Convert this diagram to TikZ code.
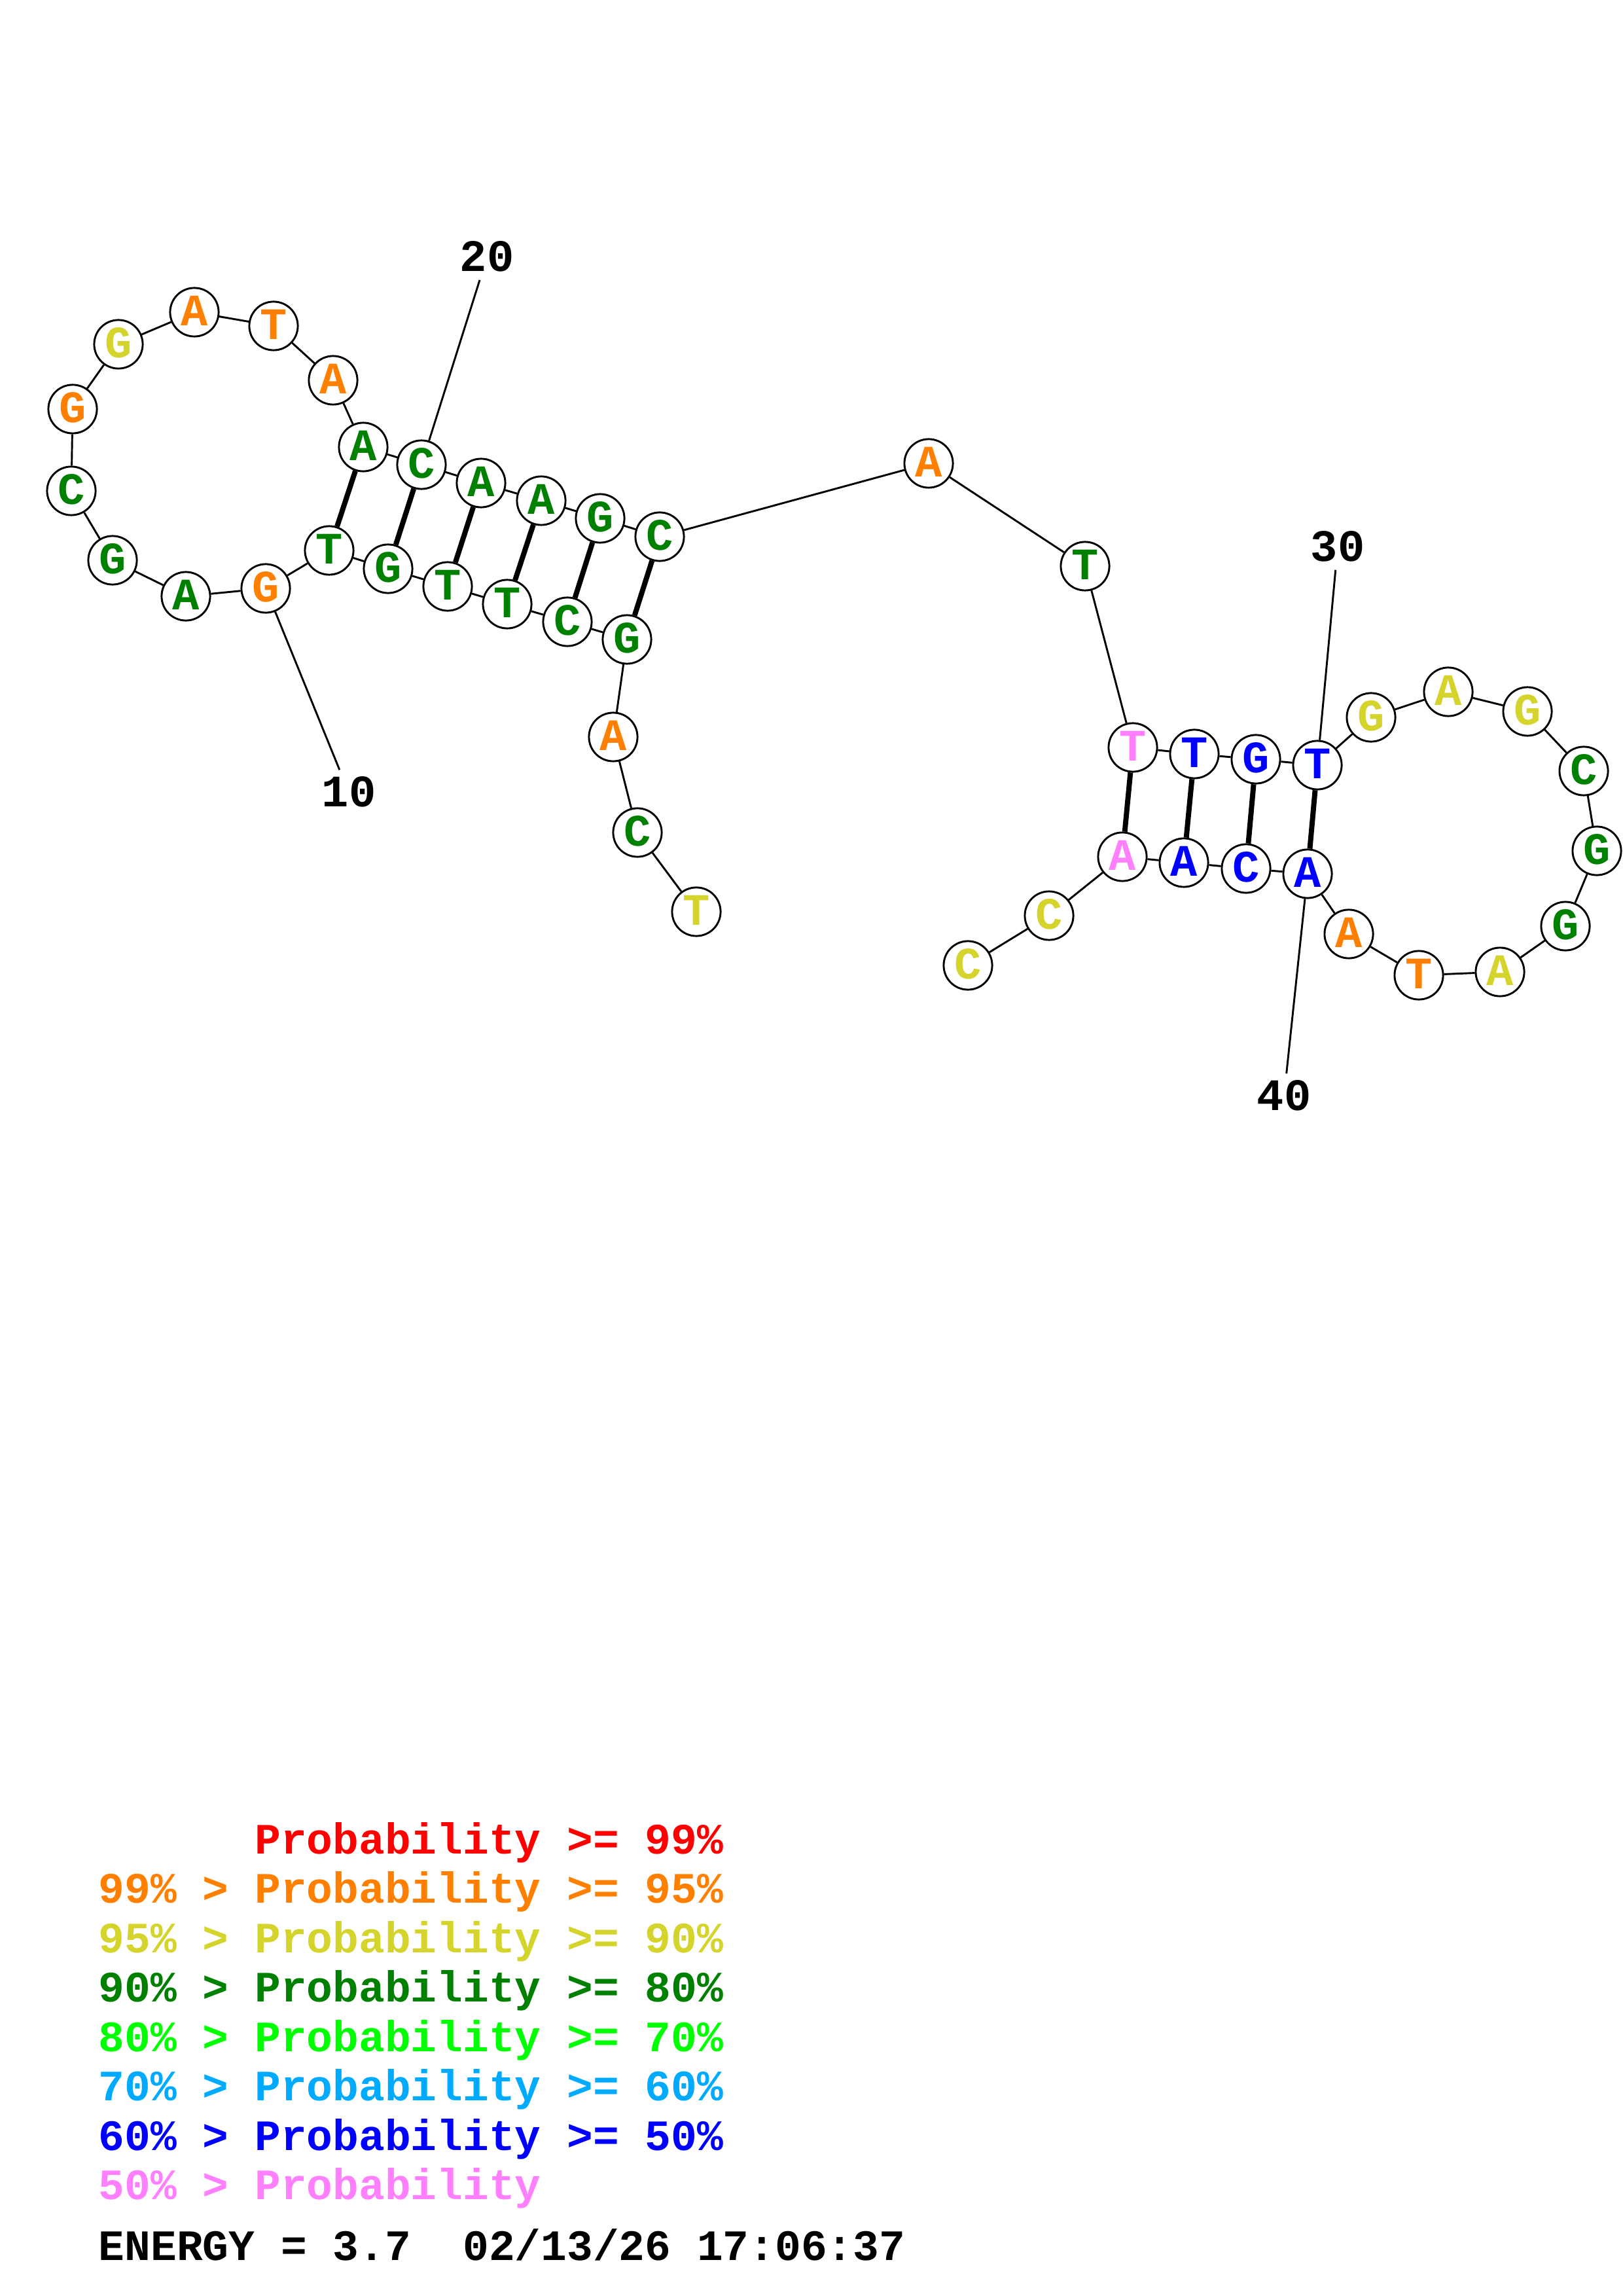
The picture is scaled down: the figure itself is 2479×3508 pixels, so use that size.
\documentclass[tikz,border=0pt]{standalone}
\usepackage{fontspec}
\setmainfont{Liberation Mono}

% probability colours
\definecolor{prRed}{RGB}{255,0,0}
\definecolor{prOrange}{RGB}{255,128,0}
\definecolor{prYellow}{RGB}{212,212,44}
\definecolor{prGreen}{RGB}{0,128,0}
\definecolor{prLime}{RGB}{0,255,0}
\definecolor{prSky}{RGB}{0,170,255}
\definecolor{prBlue}{RGB}{0,0,255}
\definecolor{prPink}{RGB}{255,128,255}

\begin{document}
\begin{tikzpicture}[x=0.24pt, y=-0.24pt,
    base/.style={circle, draw=black, fill=white, line width=0.7pt, minimum size=17.8pt, inner sep=0pt,
      text height=10pt, text depth=0pt, font=\bfseries\fontsize{16.5pt}{17pt}\selectfont},
    numlab/.style={inner sep=3pt, text height=10.3pt, text depth=0pt, font=\bfseries\fontsize{16.5pt}{17pt}\selectfont},
    legend/.style={anchor=base west, inner sep=0pt, font=\bfseries\fontsize{15.9pt}{16pt}\selectfont},
    backbone/.style={line width=0.7pt},
    pair/.style={line width=1.9pt}]

      % Page frame
      \useasboundingbox (0,0) rectangle (2479,3508);

      % Bases: number / x / y / letter / colour
      \foreach \n/\x/\y/\b/\col in {
          1/1064/1393/T/prYellow, 2/974/1272/C/prGreen, 3/937/1126/A/prOrange,
          4/958/977/G/prGreen, 5/867/950/C/prGreen, 6/775/923/T/prGreen,
          7/684/896/T/prGreen, 8/593/869/G/prGreen, 9/503/841/T/prGreen,
          10/406/899/G/prOrange, 11/284/911/A/prGreen, 12/172/856/G/prGreen,
          13/109/750/C/prGreen, 14/111/625/G/prOrange, 15/181/526/G/prYellow,
          16/297/477/A/prOrange, 17/418/498/T/prOrange, 18/509/581/A/prOrange,
          19/555/683/A/prGreen, 20/644/710/C/prGreen, 21/735/738/A/prGreen,
          22/827/765/A/prGreen, 23/917/792/G/prGreen, 24/1008/820/C/prGreen,
          25/1419/708/A/prOrange, 26/1658/865/T/prGreen, 27/1731/1142/T/prPink,
          28/1825/1152/T/prBlue, 29/1919/1160/G/prBlue, 30/2013/1169/T/prBlue,
          31/2095/1096/G/prYellow, 32/2213/1057/A/prYellow, 33/2334/1087/G/prYellow,
          34/2420/1178/C/prGreen, 35/2440/1300/G/prGreen, 36/2392/1415/G/prGreen,
          37/2292/1485/A/prYellow, 38/2168/1490/T/prOrange, 39/2061/1427/A/prOrange,
          40/1998/1335/A/prBlue, 41/1904/1327/C/prBlue, 42/1809/1318/A/prBlue,
          43/1715/1309/A/prPink, 44/1603/1399/C/prYellow, 45/1479/1475/C/prYellow} {
        \node[base, text=\col] (n\n) at (\x,\y) {\b};
      }

      % Backbone
      \foreach \i in {1,...,44} {
        \pgfmathtruncatemacro{\j}{\i+1}
        \draw[backbone] (n\i) -- (n\j);
      }

      % Base pairs
      \foreach \p/\q in {19/9, 20/8, 21/7, 22/6, 23/5, 24/4, 27/43, 28/42, 29/41, 30/40}
        \draw[pair] (n\p) -- (n\q);

      % Position numbers
      \foreach \k/\x/\y in {10/533/1211, 20/744/393, 30/2044/836, 40/1962/1675} {
        \node[numlab] (lab\k) at (\x,\y) {\k};
        \draw[backbone] (n\k) -- (lab\k);
      }

      % Legend
      \foreach \r/\col/\txt in {
          0/prRed/{\phantom{99\% > }Probability >= 99\%},
          1/prOrange/{99\% > Probability >= 95\%},
          2/prYellow/{95\% > Probability >= 90\%},
          3/prGreen/{90\% > Probability >= 80\%},
          4/prLime/{80\% > Probability >= 70\%},
          5/prSky/{70\% > Probability >= 60\%},
          6/prBlue/{60\% > Probability >= 50\%},
          7/prPink/{50\% > Probability}} {
        \node[legend, text=\col] (key\r) at (150,{2832+75.5*\r}) {\txt};
      }
      \node[legend] (energy) at (150,3453) {ENERGY = 3.7\ \ 02/13/26 17:06:37};

    \end{tikzpicture}
\end{document}
